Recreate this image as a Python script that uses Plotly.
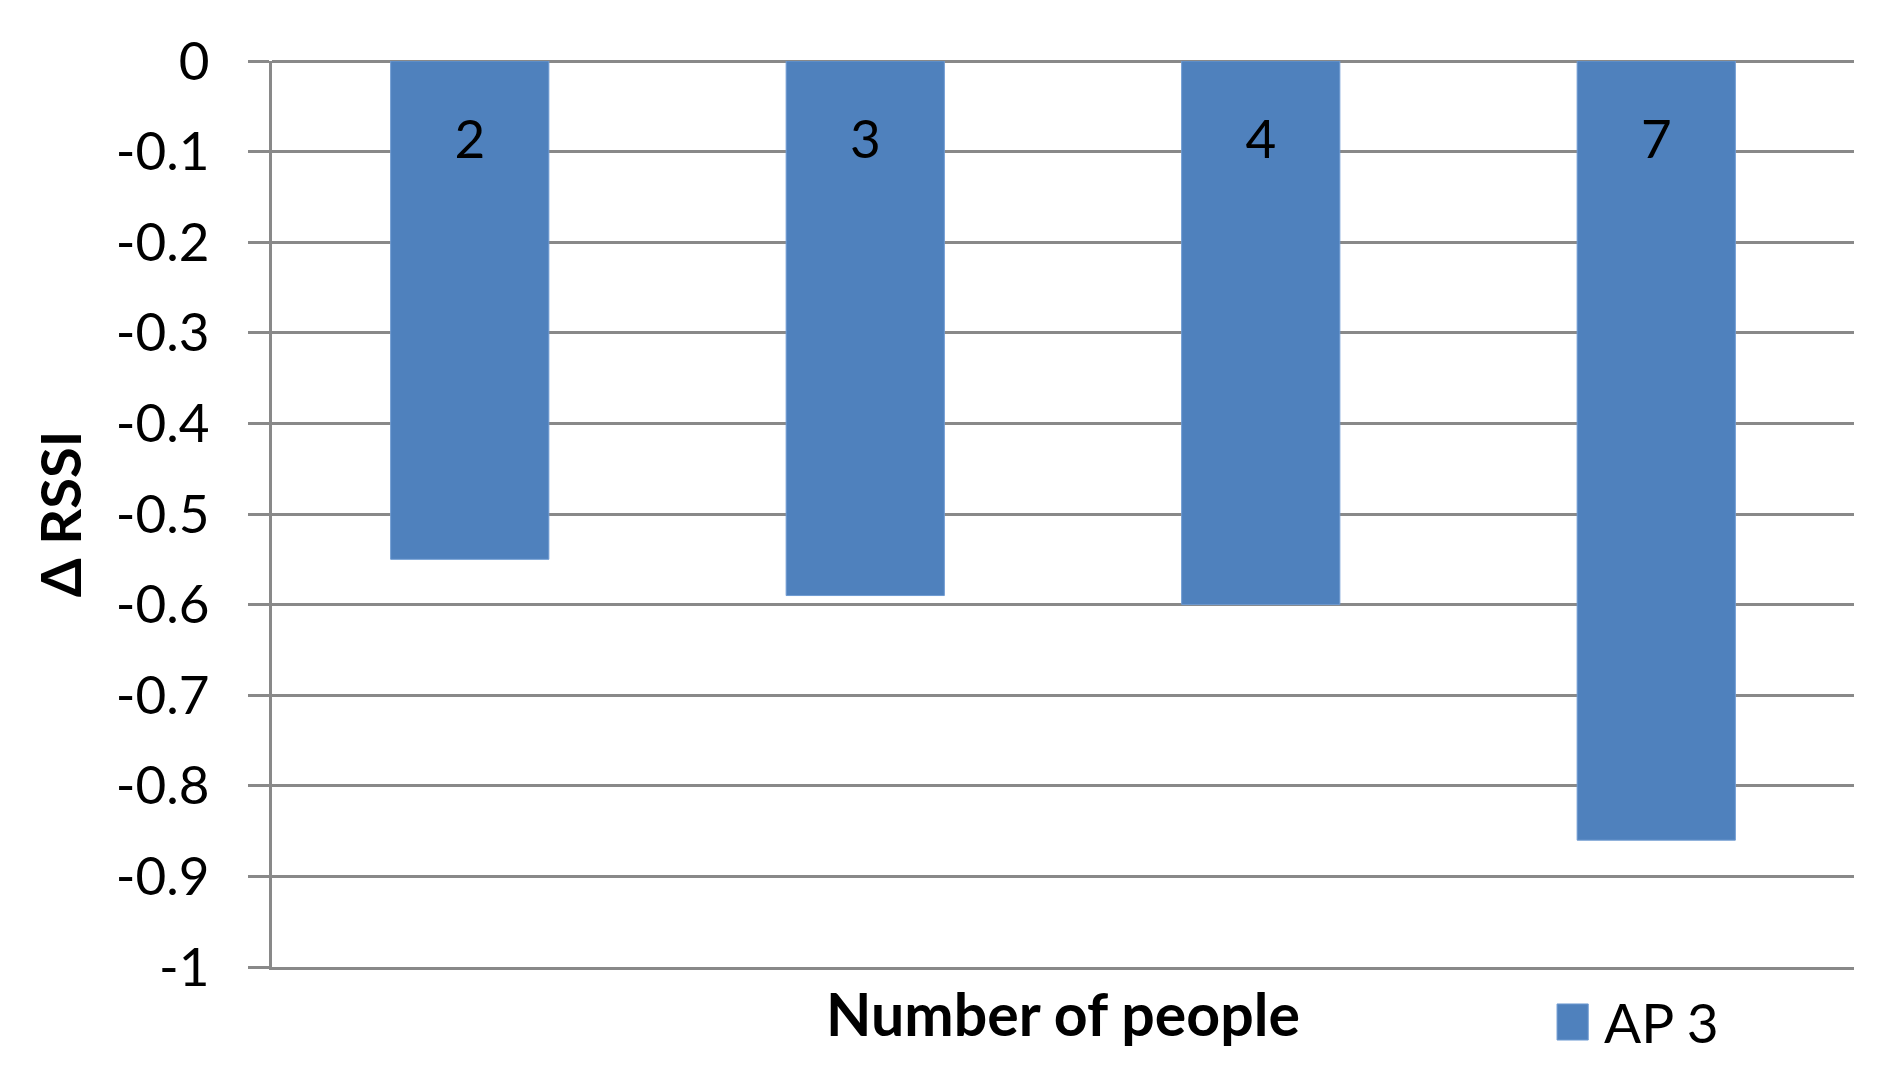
import plotly.graph_objects as go

categories = ["2", "3", "4", "7"]
delta_rssi = [-0.55, -0.59, -0.60, -0.86]
series_name = "AP 3"
y_tick_vals = [0, -0.1, -0.2, -0.3, -0.4, -0.5, -0.6, -0.7, -0.8, -0.9, -1]
y_tick_text = ["0", "-0.1", "-0.2", "-0.3", "-0.4", "-0.5", "-0.6", "-0.7", "-0.8", "-0.9", "-1"]

FONT = "Lato"
GRID = "#898989"
BAR = "#4F81BD"
FS = 53

fig = go.Figure()
fig.add_trace(go.Bar(
    x=categories, y=delta_rssi, name=series_name, width=0.4,
    marker=dict(color=BAR, line=dict(color="#6f9bd2", width=1)),
    showlegend=False, hoverinfo="skip",
))
# category labels drawn inside the bars near the zero line
label_y = [-0.092] * len(categories)
fig.add_trace(go.Scatter(
    x=categories, y=label_y, mode="text", text=categories,
    textfont=dict(family=FONT, size=FS, color="black"),
    showlegend=False, hoverinfo="skip",
))

# page body has an 8px margin, so the figure is 16px smaller than the window
fig.update_layout(
    width=1880, height=1053,
    margin=dict(l=264, r=34, t=53, b=94),
    paper_bgcolor="white", plot_bgcolor="white",
    font=dict(family=FONT, size=FS, color="black"),
    bargap=0.6,
    xaxis=dict(
        automargin=False,
        showticklabels=False, showgrid=False, zeroline=False,
        showline=True, linecolor=GRID, linewidth=3,
        title=dict(text="<b>Number of people</b>", standoff=26,
                   font=dict(family=FONT, size=59, color="black")),
    ),
    yaxis=dict(
        automargin=False,
        range=[-1, 0], tickvals=y_tick_vals, ticktext=y_tick_text,
        showgrid=True, gridcolor=GRID, gridwidth=3,
        zeroline=True, zerolinecolor=GRID, zerolinewidth=3,
        showline=True, linecolor=GRID, linewidth=3,
        ticks="outside", ticklen=21, tickwidth=3, tickcolor=GRID,
        ticklabelstandoff=28,
        tickfont=dict(family=FONT, size=FS, color="black"),
        title=dict(text="<b>Δ RSSI</b>", standoff=17,
                   font=dict(family=FONT, size=56, color="black")),
    ),
    shapes=[dict(type="rect", xref="paper", yref="paper",
                 x0=0.8123, x1=0.832, y0=-0.0806, y1=-0.0408,
                 fillcolor=BAR, line=dict(color="#6f9bd2", width=1))],
    annotations=[dict(text=series_name, xref="paper", yref="paper",
                      x=0.841, y=-0.061, xanchor="left", yanchor="middle",
                      showarrow=False, font=dict(family=FONT, size=55, color="black"))],
)

fig.write_html("out.html")
